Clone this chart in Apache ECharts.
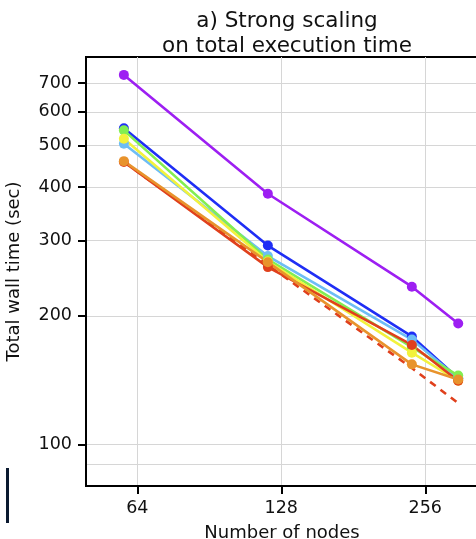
<!DOCTYPE html>
<html>
<head>
<meta charset="utf-8">
<script src="https://cdn.jsdelivr.net/npm/echarts@6/dist/echarts.min.js"></script>
<style>
html,body{margin:0;padding:0;background:#fff;}
#chart{width:476px;height:539px;}
</style>
</head>
<body>
<div id="chart"></div>
<script>
const nodes = [60, 120, 240, 300];
const xTicks = [64, 128, 256];
const yTicks = [100, 200, 300, 400, 500, 600, 700];
const yMinorGrid = [90];

const purpleTimes = [732, 386, 234, 192];
const blueTimes = [549, 292, 179, 143];
const lightBlueTimes = [505, 276, 176, 143];
const greenTimes = [543, 271, 169, 145];
const yellowTimes = [519, 268, 164, 141];
const redTimes = [458, 260, 171, 141];
const orangeTimes = [460, 267, 154, 142];
const fitTimes = [458, 263, 151, 125];

const FONT = 'DejaVu Sans';
const TXT = '#111';

function pairs(vals) { return nodes.map((n, i) => [n, vals[i]]); }

function lineSeries(name, vals, color) {
  return {
    name: name, type: 'line', data: pairs(vals),
    symbol: 'circle', symbolSize: 10,
    lineStyle: { color: color, width: 2.6 },
    itemStyle: { color: color },
    emphasis: { disabled: true },
    animation: false
  };
}

const chart = echarts.init(document.getElementById('chart'), null, { renderer: 'canvas' });
chart.setOption({
  backgroundColor: '#fff',
  animation: false,
  title: {
    text: 'a) Strong scaling\non total execution time',
    left: 282, top: 4, textAlign: 'center',
    textStyle: { fontFamily: FONT, fontSize: 21.5, fontWeight: 'normal', color: TXT, lineHeight: 25 }
  },
  grid: { left: 86, top: 57, width: 392, height: 429, outerBoundsMode: 'none', containLabel: false,
    show: true, borderColor: '#000', borderWidth: 2, backgroundColor: 'transparent' },
  xAxis: {
    type: 'log', logBase: 2, min: 50, max: 330,
    name: 'Number of nodes', nameLocation: 'middle', nameGap: 38,
    nameTextStyle: { fontFamily: FONT, fontSize: 18, color: TXT },
    axisLine: { show: true, lineStyle: { color: '#000', width: 2 } },
    axisTick: { show: true, customValues: xTicks, length: 8, lineStyle: { color: '#000', width: 2 } },
    axisLabel: { customValues: xTicks, fontFamily: FONT, fontSize: 17.5, color: TXT, margin: 13 },
    splitLine: { show: true, lineStyle: { color: '#d6d6d6', width: 1 } },
    minorTick: { show: false }
  },
  yAxis: {
    type: 'log', logBase: 10, min: 80, max: 806,
    name: 'Total wall time (sec)', nameLocation: 'middle', nameGap: 63, nameRotate: 90,
    nameTextStyle: { fontFamily: FONT, fontSize: 18, color: TXT },
    axisLine: { show: true, lineStyle: { color: '#000', width: 2 } },
    axisTick: { show: true, customValues: yTicks, length: 8, lineStyle: { color: '#000', width: 2 } },
    axisLabel: { customValues: yTicks, fontFamily: FONT, fontSize: 17.5, color: TXT, margin: 14 },
    splitLine: { show: true, lineStyle: { color: '#d6d6d6', width: 1 } }
  },
  graphic: [{
    type: 'rect', left: 6, top: 468, shape: { width: 3, height: 55 },
    style: { fill: '#0b1a30' }, silent: true
  }],
  series: [
    lineSeries('Series 1', purpleTimes, '#9d1ff2'),
    lineSeries('Series 2', blueTimes, '#1f2ef5'),
    lineSeries('Series 3', lightBlueTimes, '#6dbdf5'),
    lineSeries('Series 4', greenTimes, '#82ee52'),
    lineSeries('Series 5', yellowTimes, '#f2f23c'),
    lineSeries('Series 6', redTimes, '#e0401c'),
    lineSeries('Series 7', orangeTimes, '#e8932c'),
    {
      name: 'Fit', type: 'line', data: pairs(fitTimes), symbol: 'none',
      lineStyle: { color: '#e0401c', width: 2.6, type: [7, 6] },
      z: 1, emphasis: { disabled: true }, animation: false,
      markLine: {
        silent: true, symbol: 'none', animation: false, z: 0,
        label: { show: false },
        lineStyle: { color: '#d6d6d6', width: 1, type: 'solid' },
        emphasis: { disabled: true },
        data: yMinorGrid.map(v => ({ yAxis: v }))
      }
    }
  ]
});
</script>
</body>
</html>
